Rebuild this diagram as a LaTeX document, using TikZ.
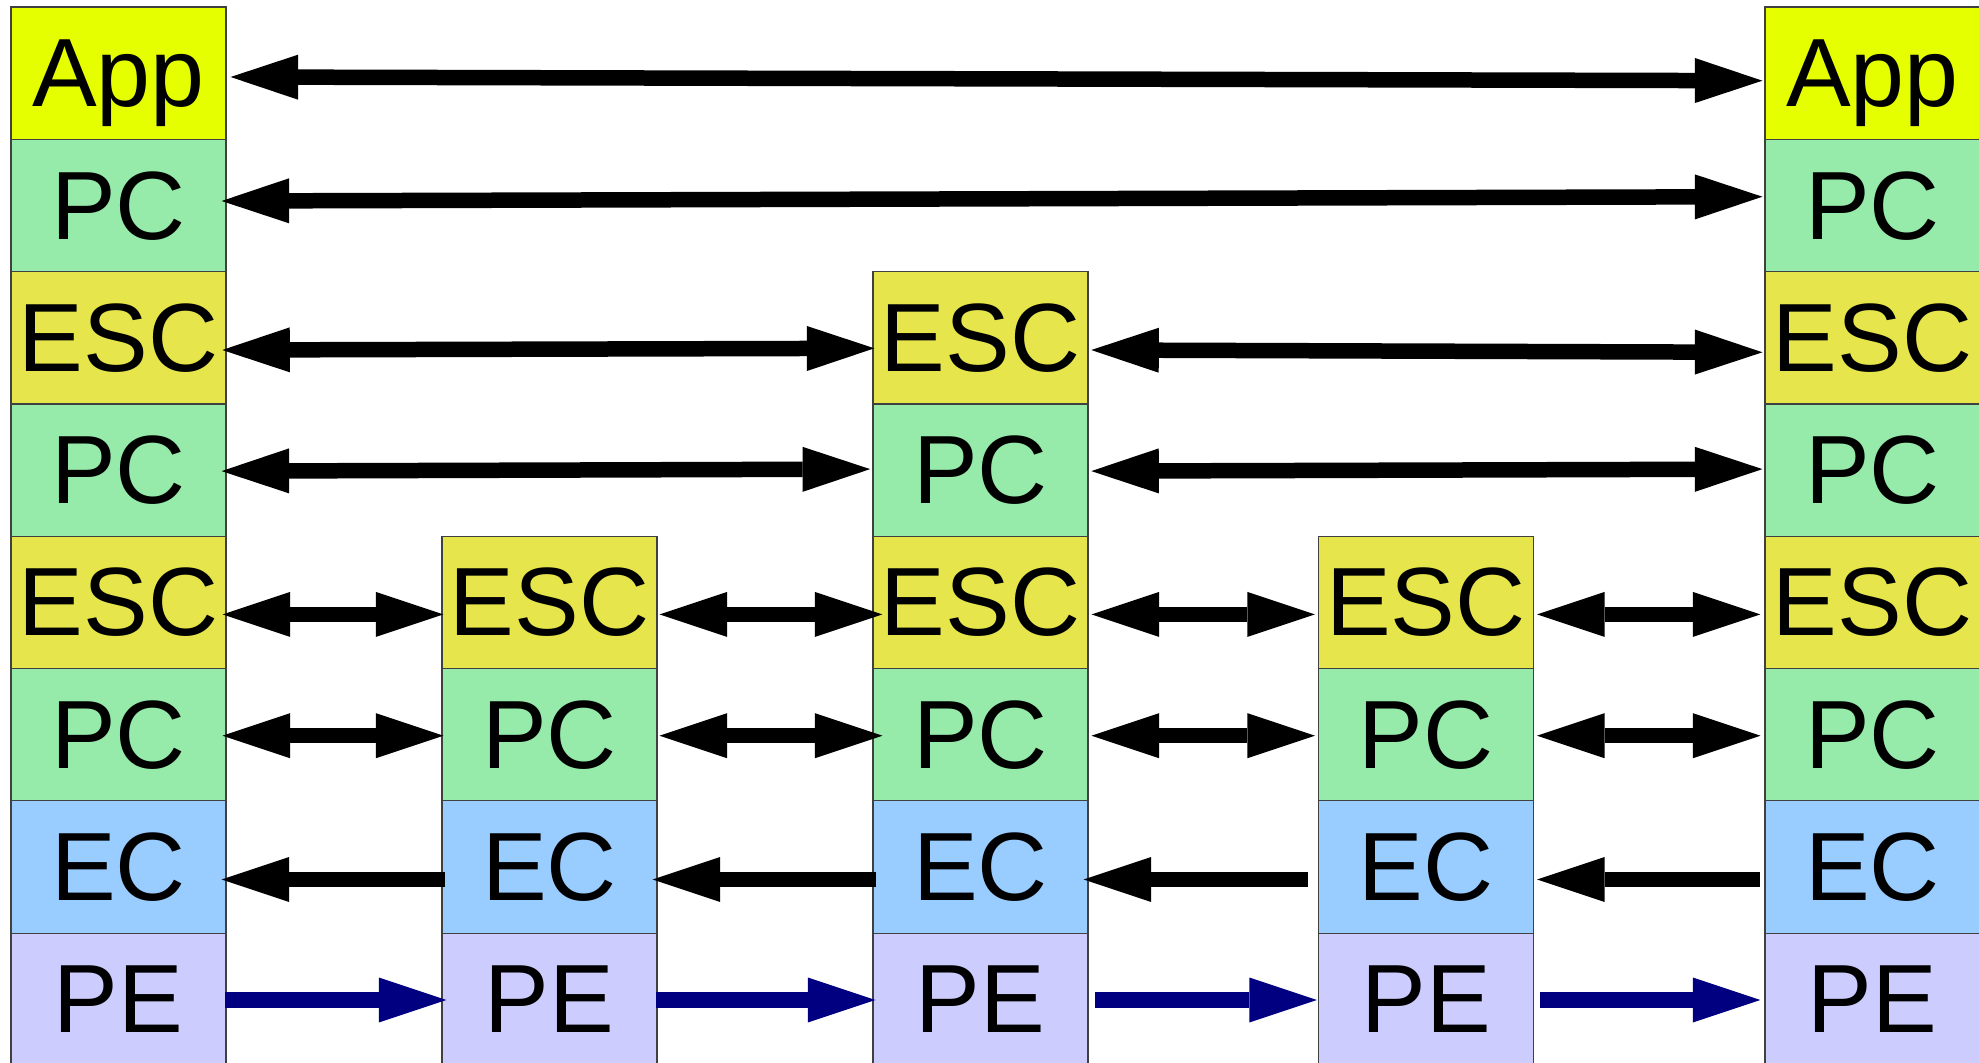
\documentclass[tikz,border=0pt]{standalone}
\usepackage{fontspec}
\setmainfont{Liberation Sans}
\usetikzlibrary{arrows.meta,calc}

\definecolor{appc}{RGB}{230,255,0}
\definecolor{pcc}{RGB}{150,235,170}
\definecolor{escc}{RGB}{230,230,76}
\definecolor{ecc}{RGB}{153,204,255}
\definecolor{pec}{RGB}{204,204,255}
\definecolor{navyarrow}{RGB}{0,0,128}

\tikzset{
  layer/.style={draw=black!75, line width=1.2pt, minimum width=215pt,
    minimum height=132.3pt, inner sep=0pt, text height=67pt, text depth=0pt,
    font=\fontsize{97}{97}\selectfont},
  app/.style={layer, fill=appc},
  pc/.style={layer, fill=pcc},
  esc/.style={layer, fill=escc},
  ec/.style={layer, fill=ecc},
  pe/.style={layer, fill=pec},
  tip/.tip={Triangle[length=67.5pt, width=45pt, line width=0pt]},
  both/.style={line width=15.5pt, black, {tip}-{tip}},
  back/.style={line width=15.5pt, black, -{tip}},
  fwd/.style={line width=15.5pt, navyarrow, -{tip}},
}

\begin{document}
\begin{tikzpicture}[x=1pt, y=-1pt]
\useasboundingbox (0,0) rectangle (1979,1063);

% layer stacks: column centres and row centres
\foreach \c/\x in {1/118.5, 5/1872.5} {
  \node[app] (c\c r1) at (\x, 73.2)  {App};
  \node[pc]  (c\c r2) at (\x, 205.5) {PC};
  \node[esc] (c\c r3) at (\x, 337.8) {ESC};
  \node[pc]  (c\c r4) at (\x, 470.1) {PC};
}
\node[esc] (c3r3) at (980.5, 337.8) {ESC};
\node[pc]  (c3r4) at (980.5, 470.1) {PC};
\foreach \c/\x in {1/118.5, 2/549.5, 3/980.5, 4/1426, 5/1872.5} {
  \node[esc] (c\c r5) at (\x, 602.4) {ESC};
  \node[pc]  (c\c r6) at (\x, 734.7) {PC};
  \node[ec]  (c\c r7) at (\x, 867.0) {EC};
  \node[pe]  (c\c r8) at (\x, 999.3) {PE};
}

% end-to-end links
\draw[both] ($(c1r1.east)+(4,3.8)$) -- ($(c5r1.west)+(-2,7.5)$);
\draw[both] ($(c1r2.east)+(-5,-4.5)$) -- ($(c5r2.west)+(-2,-8.8)$);

% links through the middle stack
\draw[both] ($(c1r3.east)+(-4.3,12.2)$) -- ($(c3r3.west)+(2,10.5)$);
\draw[both] ($(c3r3.east)+(2.7,12.2)$) -- ($(c5r3.west)+(-2,14.5)$);
\draw[both] ($(c1r4.east)+(-5,1)$) -- ($(c3r4.west)+(-2.3,-1)$);
\draw[both] ($(c3r4.east)+(2.7,1)$) -- ($(c5r4.west)+(-2,-1)$);

% hop-by-hop links
\foreach \r/\dy in {5/12, 6/1} {
  \draw[both] ($(c1r\r.east)+(-4,\dy)$) -- ($(c2r\r.west)+(2,\dy)$);
  \draw[both] ($(c2r\r.east)+(2,\dy)$) -- ($(c3r\r.west)+(10,\dy)$);
  \draw[both] ($(c3r\r.east)+(3,\dy)$) -- ($(c4r\r.west)+(-3,\dy)$);
  \draw[both] ($(c4r\r.east)+(3,\dy)$) -- ($(c5r\r.west)+(-4,\dy)$);
}

% EC: right to left
\draw[back] ($(c2r7.west)+(4,12.5)$) -- ($(c1r7.east)+(-5,12.5)$);
\draw[back] ($(c3r7.west)+(4,12.5)$) -- ($(c2r7.east)+(-5,12.5)$);
\draw[back] ($(c4r7.west)+(-10,12.5)$) -- ($(c3r7.east)+(-5,12.5)$);
\draw[back] ($(c5r7.west)+(-4,12.5)$) -- ($(c4r7.east)+(3,12.5)$);

% PE: left to right
\draw[fwd] ($(c1r8.east)+(-2,0.7)$) -- ($(c2r8.west)+(5,0.7)$);
\draw[fwd] ($(c2r8.east)+(-2,0.7)$) -- ($(c3r8.west)+(3,0.7)$);
\draw[fwd] ($(c3r8.east)+(6,0.7)$) -- ($(c4r8.west)+(-1,0.7)$);
\draw[fwd] ($(c4r8.east)+(6,0.7)$) -- ($(c5r8.west)+(-4,0.7)$);
\end{tikzpicture}
\end{document}
